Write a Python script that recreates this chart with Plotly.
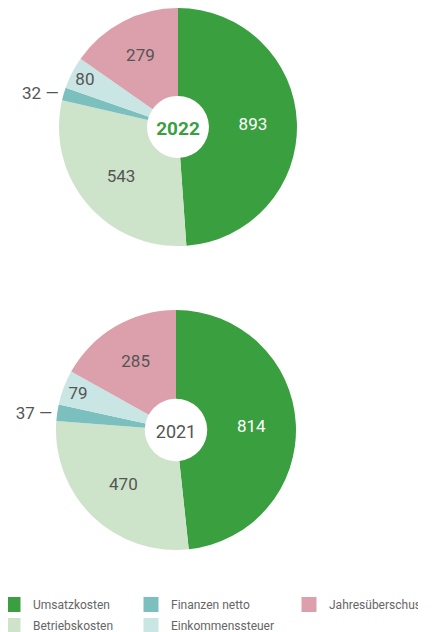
import plotly.graph_objects as go

labels = ["Umsatzkosten", "Betriebskosten", "Finanzen netto", "Einkommenssteuer", "Jahresüberschuss"]
colors = ["#3a9f3f", "#cde3ca", "#7bbfbe", "#c9e5e4", "#dc9fac"]
values_2022 = [893, 543, 32, 80, 279]
values_2021 = [814, 470, 37, 79, 285]
years = ["2022", "2021"]

FONT = "Roboto, sans-serif"
GRAY = "#555555"

texttemplates = ["%{value}", "%{value}", "%{value} —", "%{value}", "%{value}"]
textpositions = ["inside", "inside", "outside", "inside", "inside"]
insidecolors = ["#ffffff", GRAY, GRAY, GRAY, GRAY]

# page body has an 8px margin; the figure ends where the reference is cut off
OFF = 8
W, H = 418 - OFF, 632 - OFF


def dom(cx, cy, r):
    cx, cy = cx - OFF, cy - OFF
    y0 = max(0.0, 1 - (cy + r) / H)
    y1 = min(1.0, 1 - (cy - r) / H)
    return dict(x=[(cx - r) / W, (cx + r) / W], y=[y0, y1])


fig = go.Figure()
fig.add_trace(go.Pie(
    labels=labels, values=values_2022, sort=False, direction="clockwise", rotation=0,
    hole=0.26, marker=dict(colors=colors, line=dict(width=0)),
    texttemplate=texttemplates, textposition=textpositions,
    insidetextorientation="horizontal",
    insidetextfont=dict(color=insidecolors, size=17, family=FONT),
    outsidetextfont=dict(color=GRAY, size=17, family=FONT),
    title=dict(text="<b>" + years[0] + "</b>", position="middle center",
               font=dict(color="#3a9f3f", size=19, family=FONT)),
    domain=dom(178, 127, 119), showlegend=False, hoverinfo="label+value",
))
fig.add_trace(go.Pie(
    labels=labels, values=values_2021, sort=False, direction="clockwise", rotation=0,
    hole=0.26, marker=dict(colors=colors, line=dict(width=0)),
    texttemplate=texttemplates, textposition=textpositions,
    insidetextorientation="horizontal",
    insidetextfont=dict(color=insidecolors, size=17, family=FONT),
    outsidetextfont=dict(color=GRAY, size=17, family=FONT),
    title=dict(text=years[1], position="middle center",
               font=dict(color=GRAY, size=18, family=FONT)),
    domain=dom(176, 430, 120), showlegend=False, hoverinfo="label+value",
))

legend_ids = ["legend", "legend", "legend2", "legend2", "legend3"]
for i in range(len(labels)):
    fig.add_trace(go.Scatter(
        x=[None], y=[None], mode="markers", name=labels[i],
        marker=dict(symbol="square", size=15, color=colors[i]),
        legend=legend_ids[i], legendgroup=labels[i], showlegend=True,
    ))

legend_font = dict(family="Roboto, sans-serif", size=12, color="#666666")
common = dict(orientation="v", yanchor="top", xanchor="left", y=1 - (590 - OFF) / H,
              font=legend_font, bgcolor="rgba(0,0,0,0)", tracegroupgap=2,
              traceorder="grouped")
fig.update_layout(
    width=W, height=H,
    margin=dict(l=0, r=0, t=0, b=0, autoexpand=False),
    paper_bgcolor="white", plot_bgcolor="white",
    xaxis=dict(visible=False), yaxis=dict(visible=False),
    uniformtext=dict(minsize=17, mode="show"),
    legend=dict(x=(-7 - OFF) / W, **common),
    legend2=dict(x=(131 - OFF) / W, **common),
    legend3=dict(x=(289 - OFF) / W, **common),
)

fig.write_html("out.html")
